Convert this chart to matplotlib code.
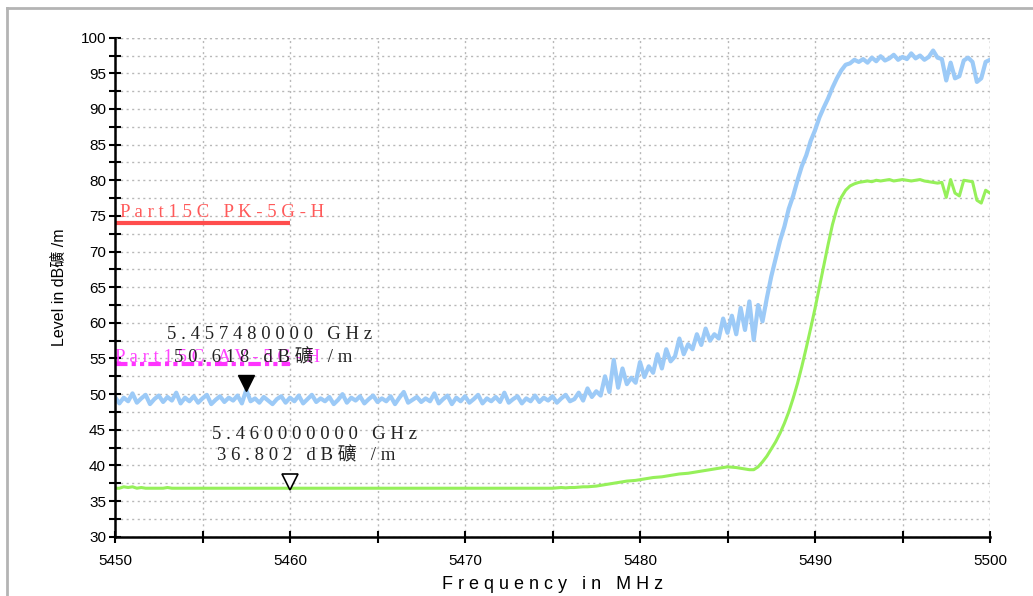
import numpy as np
import matplotlib
matplotlib.use("Agg")
import matplotlib.pyplot as plt
from matplotlib.lines import Line2D

# ---------------- data ----------------
f_start = 5450.0
f_step = 0.25

peak_level = [
    # 5450 - 5454.75
    49.6, 48.7, 49.5, 49.0, 50.1, 48.8, 49.4, 49.9, 48.6, 49.3, 49.8, 48.9, 49.6, 49.1, 50.2, 48.7, 49.5, 49.0, 49.7, 48.8,
    # 5455 - 5459.75
    49.4, 49.9, 48.6, 49.2, 49.7, 48.9, 49.5, 49.1, 49.8, 48.7, 50.6, 49.0, 49.4, 48.8, 49.6, 49.1, 48.6, 49.3, 49.7, 48.8,
    # 5460 - 5464.75
    49.5, 49.0, 49.8, 48.7, 49.3, 49.9, 48.9, 49.4, 49.0, 49.6, 48.6, 49.2, 50.0, 48.8, 49.5, 49.1, 49.7, 48.7, 49.3, 49.8,
    # 5465 - 5469.75
    48.9, 49.4, 49.0, 49.7, 48.6, 49.5, 50.3, 48.8, 49.2, 49.6, 48.9, 49.4, 49.0, 50.1, 48.7, 49.3, 49.8, 48.6, 49.5, 49.0,
    # 5470 - 5476
    49.7, 48.8, 49.3, 49.9, 48.7, 49.4, 49.0, 49.6, 48.9, 50.2, 48.8, 49.3, 49.7, 48.7, 49.4, 49.0, 49.8, 48.9, 49.5, 49.1,
    49.7, 48.8, 49.4, 49.9, 49.0,
    # 5476.25 - 5487.25
    49.3, 50.2, 49.1, 50.8, 49.6, 50.4, 49.8, 52.5, 50.3, 54.8, 50.9, 53.6, 51.4, 52.3, 51.6, 54.5, 52.4, 53.9, 53.0, 55.6,
    53.6, 56.3, 54.6, 55.3, 57.8, 55.6, 57.0, 56.3, 58.4, 56.9, 59.2, 57.5, 58.4, 57.8, 60.6, 58.6, 61.0, 58.4, 62.1, 59.0,
    63.0, 57.6, 62.5, 60.2, 63.5,
    # 5487.5 - 5492.5
    66.5, 69.0, 71.5, 73.5, 76.0, 77.8, 80.0, 82.0, 83.5, 85.5, 87.0, 88.8, 90.2, 91.5, 93.0, 94.3, 95.4, 96.2, 96.4, 96.9,
    96.6,
    # 5492.75 - 5500
    97.0, 96.5, 97.2, 96.7, 97.4, 96.8, 97.1, 97.6, 96.9, 97.3, 97.0, 97.8, 97.1, 97.5, 96.9, 97.3, 98.2, 97.2, 97.0, 94.0,
    96.5, 94.3, 94.6, 96.8, 97.2, 96.6, 93.8, 94.3, 96.6, 96.9,
]

avg_level = [
    # 5450 - 5454.75
    36.8, 36.8, 37.0, 36.9, 37.0, 36.8, 36.9, 36.8, 36.8, 36.8, 36.8, 36.8, 36.9, 36.8, 36.8, 36.8, 36.8, 36.8, 36.8, 36.8,
    # 5455 - 5459.75
    36.8, 36.8, 36.8, 36.8, 36.8, 36.8, 36.8, 36.8, 36.8, 36.8, 36.8, 36.8, 36.8, 36.8, 36.8, 36.8, 36.8, 36.8, 36.8, 36.8,
    # 5460 - 5464.75
    36.8, 36.8, 36.8, 36.8, 36.8, 36.8, 36.8, 36.8, 36.8, 36.8, 36.8, 36.8, 36.8, 36.8, 36.8, 36.8, 36.8, 36.8, 36.8, 36.8,
    # 5465 - 5469.75
    36.8, 36.8, 36.8, 36.8, 36.8, 36.8, 36.8, 36.8, 36.8, 36.8, 36.8, 36.8, 36.8, 36.8, 36.8, 36.8, 36.8, 36.8, 36.8, 36.8,
    # 5470 - 5476
    36.8, 36.8, 36.8, 36.8, 36.8, 36.8, 36.8, 36.8, 36.8, 36.8, 36.8, 36.8, 36.8, 36.8, 36.8, 36.8, 36.8, 36.8, 36.8, 36.8,
    36.8, 36.85, 36.9, 36.85, 36.9,
    # 5476.25 - 5487.25
    36.9, 36.95, 37.0, 37.0, 37.05, 37.1, 37.2, 37.3, 37.4, 37.5, 37.6, 37.7, 37.8, 37.85, 37.9, 38.0, 38.1, 38.2, 38.3, 38.35,
    38.4, 38.5, 38.6, 38.7, 38.8, 38.85, 38.9, 39.0, 39.1, 39.2, 39.3, 39.4, 39.5, 39.6, 39.7, 39.8, 39.75, 39.7, 39.6, 39.5,
    39.4, 39.4, 39.8, 40.5, 41.3,
    # 5487.5 - 5492.5
    42.3, 43.3, 44.5, 45.9, 47.5, 49.4, 51.5, 53.9, 56.5, 59.2, 62.0, 65.0, 68.0, 71.0, 73.8, 76.0, 77.6, 78.6, 79.2, 79.5,
    79.7,
    # 5492.75 - 5500
    79.8, 79.9, 79.8, 80.0, 79.9, 80.0, 80.1, 79.9, 80.0, 80.1, 80.0, 79.9, 80.0, 80.1, 79.9, 79.8, 79.7, 79.6, 79.7, 77.6,
    80.1, 78.2, 77.8, 80.0, 79.9, 79.8, 77.2, 76.8, 78.6, 78.2,
]

limit_names = ["Part15C PK-5G-H", "Part15C AV-5G-H"]
limit_levels = [74.0, 54.2]
limit_span = [5450.0, 5460.0]

marker_freqs = [5457.48, 5460.0]
marker_levels = [50.618, 36.802]
marker_freq_text = ["5.457480000 GHz", "5.460000000 GHz"]
marker_level_text = ["50.618 dB礦 /m", "36.802 dB礦 /m"]

x_ticks = [5450, 5460, 5470, 5480, 5490, 5500]
y_ticks = [30, 35, 40, 45, 50, 55, 60, 65, 70, 75, 80, 85, 90, 95, 100]


def spaced(s):
    # letter-spaced rendering: single space between characters, wider gap for words
    return "   ".join(" ".join(list(w)) for w in s.split(" "))


# ---------------- figure ----------------
plt.rcParams['font.family'] = ['Liberation Sans', 'Noto Sans CJK SC', 'DejaVu Sans']
fig = plt.figure(figsize=(10.33, 5.96), dpi=100)
fig.patch.set_facecolor("white")

# outer frame
fig.add_artist(Line2D([7 / 1033, 7 / 1033], [0, 1 - 8 / 596], transform=fig.transFigure,
                      color="#b4b4b4", lw=2))
fig.add_artist(Line2D([7 / 1033, 1.0], [1 - 8 / 596, 1 - 8 / 596], transform=fig.transFigure,
                      color="#b4b4b4", lw=2))

ax = fig.add_axes([115 / 1033, 59.3 / 596, 875 / 1033, 499 / 596])

fb = f_start + f_step * np.arange(len(peak_level))
fa = f_start + f_step * np.arange(len(avg_level))

ax.plot(fb, peak_level, color="#9ccaf7", lw=3.0, zorder=3)
ax.plot(fa, avg_level, color="#96f05a", lw=2.2, zorder=3)

# limit lines
ax.plot(limit_span, [limit_levels[0]] * 2, color="#ff4d4d", lw=3, solid_capstyle="butt", zorder=4)
ax.plot(limit_span, [limit_levels[1]] * 2, color="#ff33ff", lw=3, dashes=[3, 1, 1, 1, 1, 1], zorder=4)

serif = ['Liberation Serif', 'Noto Sans CJK SC']
fs_txt = 13.5
ax.text(5450.3, limit_levels[0] + 0.3, spaced(limit_names[0]),
        color="#ff5a5a", fontsize=fs_txt, family=serif, ha="left", va="bottom", zorder=5)
ax.text(5450.0, limit_levels[1] - 0.2, spaced(limit_names[1]),
        color="#ff44ff", fontsize=fs_txt, family=serif, ha="left", va="bottom", zorder=5)

# markers
ax.plot(marker_freqs[0], marker_levels[0] + 0.9, marker="v", ms=11, color="black",
        markerfacecolor="black", zorder=6)
ax.plot(marker_freqs[1], marker_levels[1] + 0.9, marker="v", ms=11, color="black",
        markerfacecolor="white", mew=1.2, zorder=6)

ax.text(5458.85, 58.3, spaced(marker_freq_text[0]),
        fontsize=fs_txt, family=serif, color="#222222", ha="center", va="center", zorder=5)
ax.text(5458.45, 55.2, spaced(marker_level_text[0]),
        fontsize=fs_txt, family=serif, color="#222222", ha="center", va="center", zorder=5)
ax.text(5461.4, 44.3, spaced(marker_freq_text[1]),
        fontsize=fs_txt, family=serif, color="#222222", ha="center", va="center", zorder=5)
ax.text(5460.95, 41.5, spaced(marker_level_text[1]),
        fontsize=fs_txt, family=serif, color="#222222", ha="center", va="center", zorder=5)

# axes styling
ax.set_xlim(5450, 5500)
ax.set_ylim(30, 100)
ax.set_xticks(x_ticks)
ax.set_xticks(np.arange(5455, 5500, 10), minor=True)
ax.set_yticks(y_ticks)
ax.set_yticks(np.arange(32.5, 100, 5), minor=True)
ax.set_xticklabels([str(t) for t in x_ticks], fontsize=11)
ax.set_yticklabels([str(t) for t in y_ticks], fontsize=11)
ax.tick_params(which="both", direction="inout", length=9, width=1.5, color="black")
ax.tick_params(axis="x", which="both", pad=8)
ax.tick_params(axis="y", which="both", pad=2)

for s in ["top", "right"]:
    ax.spines[s].set_visible(False)
for s in ["left", "bottom"]:
    ax.spines[s].set_linewidth(1.8)
    ax.spines[s].set_zorder(7)

ax.grid(True, which="both", color="#b8b8b8", linestyle=(0, (1.5, 2.5)), lw=1.0)
ax.set_axisbelow(True)
ax.axhline(100, color="#b8b8b8", linestyle=(0, (1.5, 2.5)), lw=1.0, zorder=1)
ax.axvline(5500, color="#b8b8b8", linestyle=(0, (1.5, 2.5)), lw=1.0, zorder=1)

ax.set_xlabel(spaced("Frequency in MHz"), fontsize=13, labelpad=6)
ax.set_ylabel("Level in dB礦 /m", fontsize=11.5, labelpad=10)

fig.savefig("out.png", dpi=100, facecolor="white")
